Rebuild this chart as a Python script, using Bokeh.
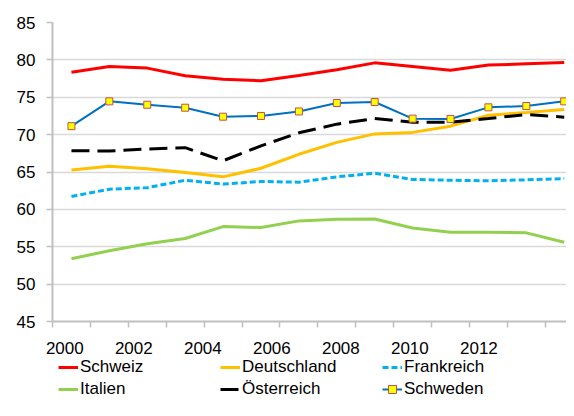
from bokeh.plotting import figure
from bokeh.models import Range1d, FixedTicker, Legend, LegendItem
from bokeh.layouts import column
from bokeh.embed import file_html
from bokeh.resources import INLINE

years = list(range(2000, 2014))
schweiz = [78.35, 79.1, 78.9, 77.87, 77.4, 77.2, 77.9, 78.67, 79.6, 79.1, 78.6, 79.3, 79.47, 79.64]
deutschland = [65.28, 65.77, 65.45, 64.92, 64.35, 65.5, 67.37, 68.96, 70.1, 70.3, 71.13, 72.6, 72.95, 73.35]
frankreich = [61.73, 62.7, 62.9, 63.9, 63.38, 63.73, 63.64, 64.35, 64.84, 64.0, 63.9, 63.82, 63.95, 64.12]
italien = [53.4, 54.47, 55.4, 56.1, 57.7, 57.57, 58.46, 58.67, 58.72, 57.5, 56.94, 56.94, 56.86, 55.6]
oesterreich = [67.85, 67.8, 68.07, 68.25, 66.5, 68.5, 70.24, 71.4, 72.15, 71.66, 71.66, 72.15, 72.7, 72.33]
schweden = [71.13, 74.45, 74.0, 73.6, 72.4, 72.5, 73.1, 74.23, 74.36, 72.14, 72.1, 73.65, 73.83, 74.45]
tick_labels = ["2000", "2002", "2004", "2006", "2008", "2010", "2012"]
y_ticks = [45, 50, 55, 60, 65, 70, 75, 80, 85]

series = [
    ("Schweiz", schweiz, dict(line_color="#ff0000", line_width=3)),
    ("Deutschland", deutschland, dict(line_color="#ffc000", line_width=3)),
    ("Frankreich", frankreich, dict(line_color="#00b0f0", line_width=3, line_dash="6 3")),
    ("Italien", italien, dict(line_color="#92d050", line_width=3)),
    ("Österreich", oesterreich, dict(line_color="#000000", line_width=3, line_dash="18 8")),
    ("Schweden", schweden, dict(line_color="#0070c0", line_width=2)),
]
marker_style = dict(marker="square", size=7, fill_color="#ffff00", line_color="#c0504d", line_width=1)

p = figure(width=566, height=356, output_backend="svg", toolbar_location=None,
           x_range=Range1d(1999.5, 2013.06), y_range=Range1d(45, 85),
           min_border_left=52, min_border_right=0, min_border_top=22, min_border_bottom=34)
p.outline_line_color = None
p.xgrid.grid_line_color = None
p.ygrid.grid_line_color = "#d9d9d9"
p.ygrid.grid_line_width = 1.5

# label positions as drawn in the reference (slightly offset from the category centres)
label_pos = [1999.825 + k * 1.8206 for k in range(len(tick_labels))]
boundaries = [y - 0.5 for y in years] + [years[-1] + 0.5]
p.xaxis.ticker = FixedTicker(ticks=label_pos, minor_ticks=boundaries)
p.xaxis.major_label_overrides = {pos: lab for pos, lab in zip(label_pos, tick_labels)}
p.xaxis.major_tick_out = 0
p.xaxis.major_tick_in = 0
p.xaxis.minor_tick_out = 6
p.xaxis.minor_tick_in = 0
p.xaxis.minor_tick_line_color = "#bfbfbf"
p.xaxis.minor_tick_line_width = 1.5
p.xaxis.major_label_standoff = 14

p.yaxis.ticker = FixedTicker(ticks=y_ticks)
p.yaxis.major_tick_out = 6
p.yaxis.major_tick_in = 0
p.yaxis.minor_tick_out = 0
p.yaxis.minor_tick_in = 0
p.yaxis.major_tick_line_color = "#bfbfbf"
p.yaxis.major_label_standoff = 11

for ax in (p.xaxis, p.yaxis):
    ax.axis_line_color = "#bfbfbf"
    ax.axis_line_width = 2
    ax.major_tick_line_width = 1.5
    ax.major_label_text_font = "Liberation Sans"
    ax.major_label_text_font_size = "17px"
    ax.major_label_text_color = "#000000"

for name, vals, style in series:
    p.line(years, vals, **style)
p.scatter(years, schweden, **marker_style)

# legend strip below the chart (its series lie outside its own ranges, only the legend shows)
pl = figure(width=566, height=44, output_backend="svg", toolbar_location=None,
            x_axis_location=None, y_axis_location=None,
            x_range=Range1d(0, 1), y_range=Range1d(0, 1),
            min_border_left=52, min_border_right=0, min_border_top=0, min_border_bottom=0)
pl.outline_line_color = None
pl.grid.visible = False
items = []
for name, vals, style in series:
    rs = [pl.line(years, vals, **style)]
    if name == "Schweden":
        rs.append(pl.scatter(years, vals, **marker_style))
    items.append(LegendItem(label=name, renderers=rs))

legend = Legend(items=items, orientation="horizontal", ncols=3, location=(6, 0))
legend.padding = 0
legend.margin = 0
legend.spacing = 0
legend.glyph_width = 20
legend.glyph_height = 20
legend.label_height = 22
legend.label_width = 140
legend.label_standoff = 2
legend.label_text_font = "Liberation Sans"
legend.label_text_font_size = "17px"
legend.label_text_color = "#000000"
legend.border_line_alpha = 0
legend.background_fill_alpha = 0
pl.add_layout(legend, "center")

layout = column(p, pl)
open("out.html", "w").write(file_html(layout, INLINE))
